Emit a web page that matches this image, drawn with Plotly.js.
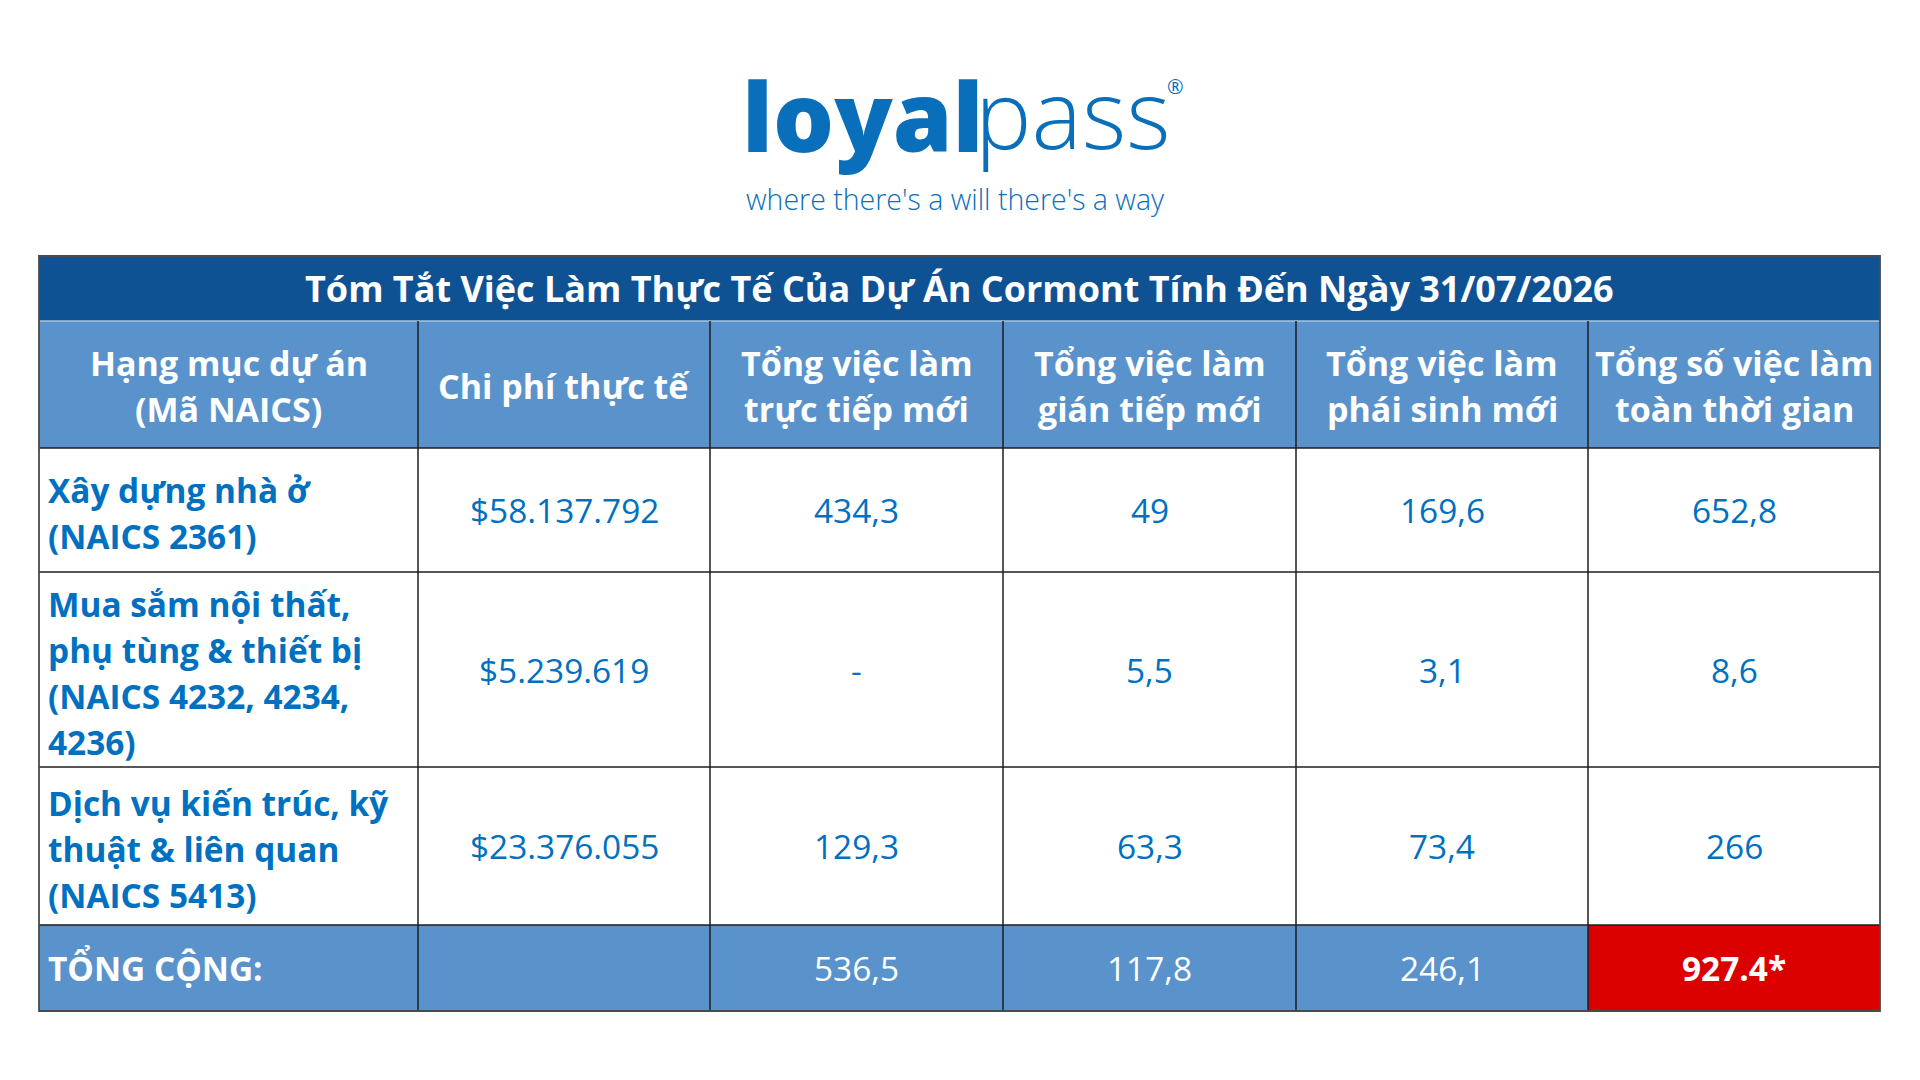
<!DOCTYPE html>
<html>
<head>
<meta charset="utf-8">
<script src="https://cdn.plot.ly/plotly-3.0.1.min.js"></script>
<style>html,body{margin:0;padding:0;background:#ffffff;overflow:hidden}</style>
</head>
<body>
<div id="chart" style="width:1920px;height:1080px"></div>
<script>
// ---------------- DATA ----------------
const brandBold = 'loyal';
const brandLight = 'pass';
const brandMark = '®';
const tagline = "where there's a will there's a way";

const tableTitle = 'Tóm Tắt Việc Làm Thực Tế Của Dự Án Cormont Tính Đến Ngày 31/07/2026';
const columnHeaders = [
  'Hạng mục dự án<br>(Mã NAICS)',
  'Chi phí thực tế',
  'Tổng việc làm<br>trực tiếp mới',
  'Tổng việc làm<br>gián tiếp mới',
  'Tổng việc làm<br>phái sinh mới',
  'Tổng số việc làm<br>toàn thời gian'
];
const categories = [
  'Xây dựng nhà ở<br>(NAICS 2361)',
  'Mua sắm nội thất,<br>phụ tùng & thiết bị<br>(NAICS 4232, 4234,<br>4236)',
  'Dịch vụ kiến trúc, kỹ<br>thuật & liên quan<br>(NAICS 5413)'
];
const actualCost   = ['$58.137.792', '$5.239.619', '$23.376.055'];
const directJobs   = ['434,3', '-', '129,3'];
const indirectJobs = ['49', '5,5', '63,3'];
const inducedJobs  = ['169,6', '3,1', '73,4'];
const fullTimeJobs = ['652,8', '8,6', '266'];
const totalRow     = ['TỔNG CỘNG:', '', '536,5', '117,8', '246,1', '927.4*'];

// ---------------- LAYOUT / STYLE ----------------
const W = 1920, H = 1080;
const tableLeft = 39, tableTop = 256;
const colWidths = [379, 292, 293, 293, 292, 292];
const rowHeights = [65, 127, 124, 195, 158, 86]; // title, header, body x3, total
const lineGap = 46;
const fontFam = '"Open Sans", "Noto Sans", sans-serif';
const C = {
  titleBar: '#0F5294', header: '#5A93CB', white: '#FFFFFF', red: '#DA0000',
  text: '#0070C0', grid: '#1E1E1E', brand: '#0A6FBA'
};

const xEdges = [tableLeft];
colWidths.forEach(w => xEdges.push(xEdges[xEdges.length - 1] + w));
const yEdges = [tableTop];
rowHeights.forEach(h => yEdges.push(yEdges[yEdges.length - 1] + h));
const xMid = i => (xEdges[i] + xEdges[i + 1]) / 2;
const yMid = r => (yEdges[r] + yEdges[r + 1]) / 2;

// cell fill codes: 0 title, 1 header blue, 2 white, 3 red
const nCols = colWidths.length;
const zFill = [
  new Array(nCols).fill(0),
  new Array(nCols).fill(1),
  ...categories.map(() => new Array(nCols).fill(2)),
  totalRow.map((v, i) => i === nCols - 1 ? 3 : 1)
];

const fillTrace = {
  type: 'heatmap',
  x: xEdges, y: yEdges, z: zFill,
  zmin: 0, zmax: 3, showscale: false, hoverinfo: 'skip', zsmooth: false,
  colorscale: [
    [0, C.titleBar], [0.2, C.titleBar], [0.2, C.header], [0.5, C.header],
    [0.5, C.white], [0.8, C.white], [0.8, C.red], [1, C.red]
  ]
};

const annotations = [];
function cellText(text, col, row, opt) {
  const lines = String(text).split('<br>');
  const n = lines.length;
  lines.forEach((ln, k) => {
    const left = opt.align === 'left';
    annotations.push({
      xref: 'x', yref: 'y',
      x: left ? xEdges[col] + 7 : xMid(col),
      y: yMid(row) + (opt.dy || 0) + (k - (n - 1) / 2) * lineGap,
      xanchor: left ? 'left' : 'center', yanchor: 'middle',
      text: ln, showarrow: false,
      font: { family: fontFam, size: opt.size || 33.4, color: opt.color, weight: opt.weight || 400 }
    });
  });
}

// title
annotations.push({
  xref: 'x', yref: 'y', x: (xEdges[0] + xEdges[nCols]) / 2, y: yMid(0),
  xanchor: 'center', yanchor: 'middle', showarrow: false, text: tableTitle,
  font: { family: fontFam, size: 36, color: C.white, weight: 700 }
});
// headers
columnHeaders.forEach((h, i) => cellText(h, i, 1, { color: C.white, weight: 700, size: 34, dy: 1.5 }));
// body
const bodyCols = [actualCost, directJobs, indirectJobs, inducedJobs, fullTimeJobs];
categories.forEach((cat, r) => {
  cellText(cat, 0, r + 2, { color: C.text, weight: 700, align: 'left', dy: 3 });
  bodyCols.forEach((col, c) => cellText(col[r], c + 1, r + 2, { color: C.text }));
});
// total row
const totalR = rowHeights.length - 1;
totalRow.forEach((v, i) => {
  if (v === '') return;
  if (i === 0) cellText(v, 0, totalR, { color: C.white, weight: 700, align: 'left' });
  else cellText(v, i, totalR, { color: C.white, weight: i === nCols - 1 ? 700 : 400 });
});

// brand
annotations.push({
  xref: 'x', yref: 'y', x: 986, y: 114, xanchor: 'right', yanchor: 'middle', showarrow: false,
  text: brandBold, font: { family: fontFam, size: 96, color: C.brand, weight: 800 }
});
annotations.push({
  xref: 'x', yref: 'y', x: 973, y: 112, xanchor: 'left', yanchor: 'middle', showarrow: false,
  text: brandLight, font: { family: fontFam, size: 95, color: C.brand, weight: 300 }
});
annotations.push({
  xref: 'x', yref: 'y', x: 1175, y: 86, xanchor: 'center', yanchor: 'middle', showarrow: false,
  text: brandMark, font: { family: fontFam, size: 20, color: C.brand, weight: 400 }
});
annotations.push({
  xref: 'x', yref: 'y', x: 744, y: 199, xanchor: 'left', yanchor: 'middle', showarrow: false,
  text: tagline, font: { family: fontFam, size: 28.5, color: C.brand, weight: 300 }
});

// grid lines
const shapes = [];
const L = (x0, y0, x1, y1, color, width) => shapes.push({ type: 'line', xref: 'x', yref: 'y', x0, y0, x1, y1, line: { color, width } });
L(xEdges[0], yEdges[1], xEdges[nCols], yEdges[1], '#A9C3E0', 1.5);
for (let r = 2; r < yEdges.length - 1; r++) L(xEdges[0], yEdges[r], xEdges[nCols], yEdges[r], C.grid, 1.6);
for (let c = 1; c < nCols; c++) L(xEdges[c], yEdges[1], xEdges[c], yEdges[yEdges.length - 1], C.grid, 1.5);
shapes.push({ type: 'rect', xref: 'x', yref: 'y', x0: xEdges[0], y0: yEdges[0], x1: xEdges[nCols], y1: yEdges[yEdges.length - 1], line: { color: '#4A4A4A', width: 1.8 } });

const layout = {
  width: W, height: H, margin: { l: 0, r: 0, t: 0, b: 0, pad: 0 },
  paper_bgcolor: '#FFFFFF', plot_bgcolor: '#FFFFFF',
  xaxis: { range: [0, W], visible: false, fixedrange: true },
  yaxis: { range: [H, 0], visible: false, fixedrange: true },
  showlegend: false, annotations, shapes
};
Plotly.newPlot('chart', [fillTrace], layout, { staticPlot: true, displayModeBar: false });
</script>
</body>
</html>
